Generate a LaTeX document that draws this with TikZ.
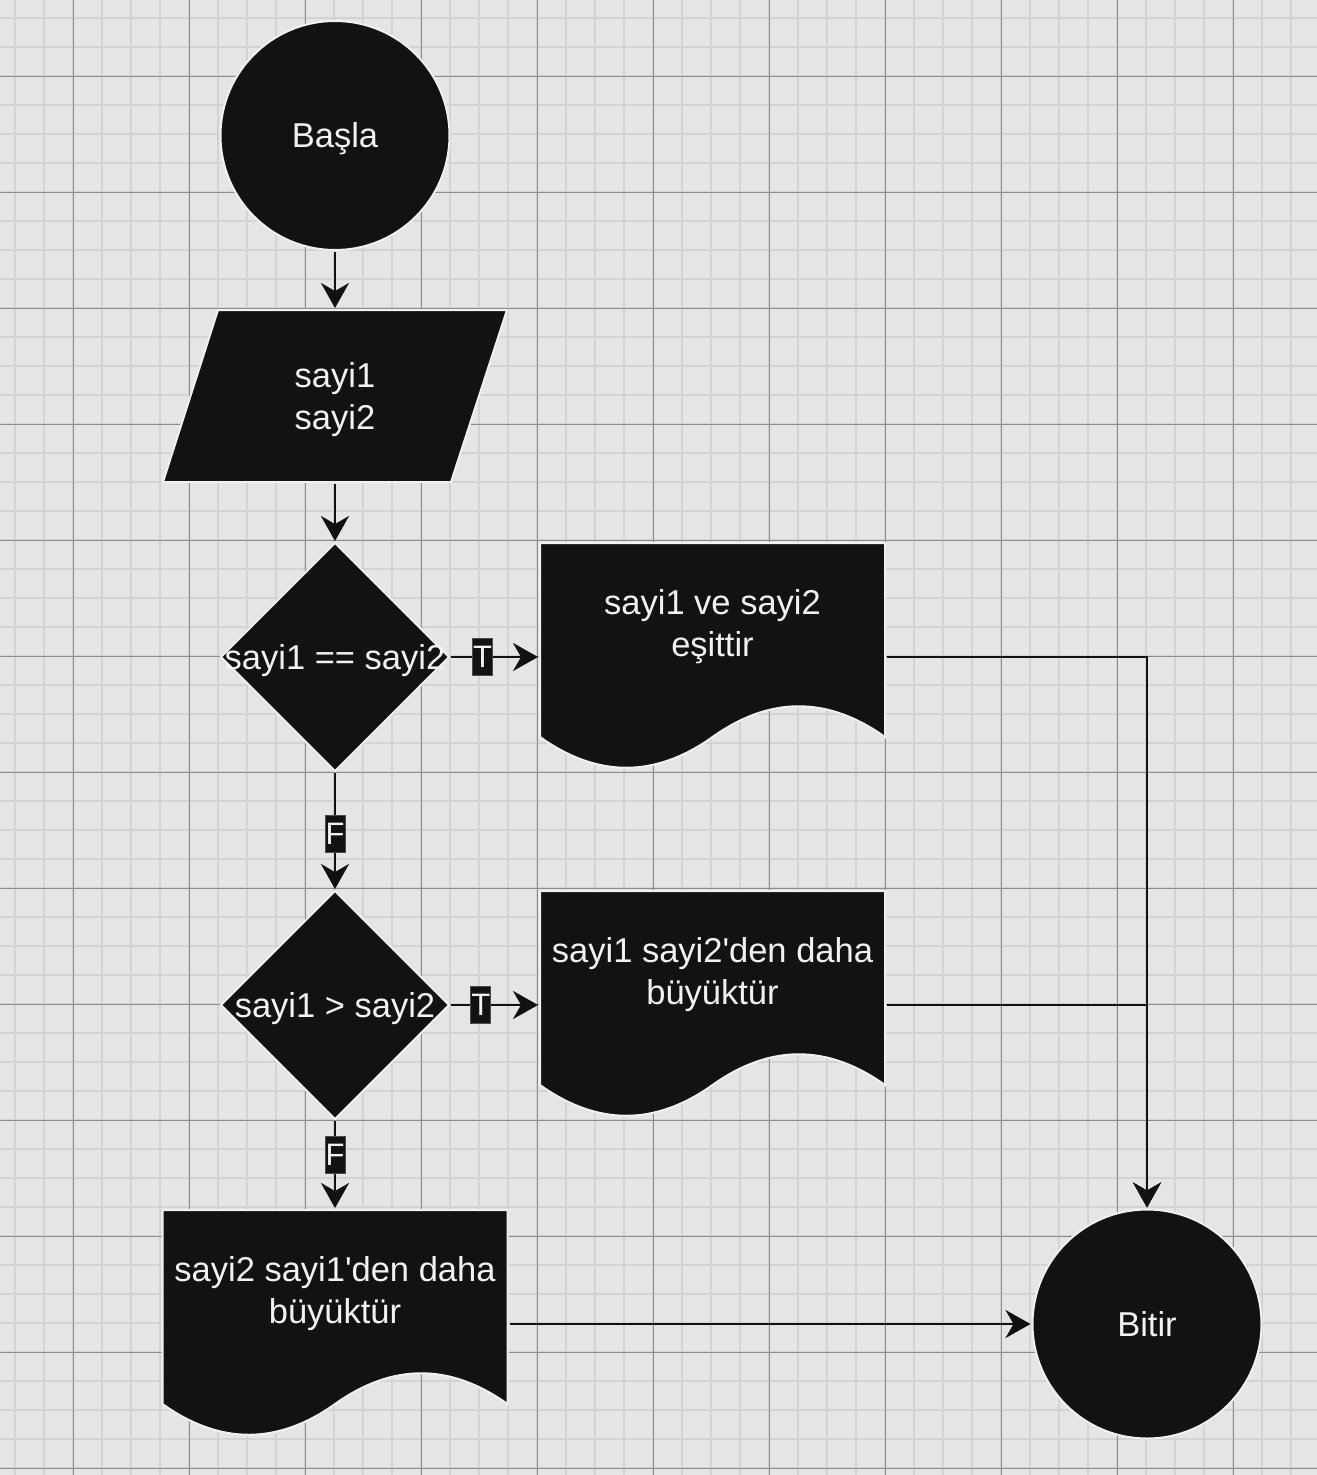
\documentclass[tikz,border=0pt]{standalone}
\usepackage{fontspec}
\setmainfont{Liberation Sans}
\usetikzlibrary{shapes.geometric,arrows.meta}
\definecolor{bgcol}{HTML}{E5E5E5}
\definecolor{minorcol}{HTML}{D3D3D3}
\definecolor{majorcol}{HTML}{8C8C8C}
\definecolor{shpcol}{HTML}{121212}
\definecolor{edgecol}{HTML}{F0F0F0}
\definecolor{txtcol}{HTML}{F2F2F2}
\definecolor{linecol}{HTML}{111111}
\newcommand\mybigfont{\fontsize{34.5}{41.5}\selectfont}
\newcommand\mylblfont{\fontsize{31}{37}\selectfont}
\begin{document}
\begin{tikzpicture}[x=1pt,y=-1pt,
  base/.style={fill=shpcol, draw=edgecol, line width=2pt},
  term/.style={base, circle, minimum size=229pt, inner sep=0pt, outer sep=0pt},
  decision/.style={base, diamond, minimum width=228pt, minimum height=228pt, inner sep=0pt, outer sep=0pt},
  frame/.style={rectangle, inner sep=0pt, outer sep=0pt},
  txtnode/.style={text=txtcol, font=\mybigfont, align=center, inner sep=0pt, yshift=-3.5pt},
  lbl/.style={fill=shpcol, draw=black!70, line width=0.8pt, text=txtcol, font=\mylblfont, minimum width=20pt, minimum height=37pt, inner sep=0pt},
  conn/.style={draw=linecol, line width=2.6pt, shorten >=2pt, shorten <=2pt, -{Stealth[length=25pt,width=28pt,inset=8pt]}}
]
\useasboundingbox (0,0) rectangle (1317,1475);
\fill[bgcol] (0,0) rectangle (1317,1475);
\foreach \x in {15,44,...,1317} \draw[minorcol, line width=1.6pt] (\x,0) -- (\x,1475);
\foreach \y in {18,47,...,1475} \draw[minorcol, line width=1.6pt] (0,\y) -- (1317,\y);
\foreach \x in {73,189,...,1317} \draw[majorcol, line width=1pt] (\x,0) -- (\x,1475);
\foreach \y in {76,192,...,1475} \draw[majorcol, line width=1pt] (0,\y) -- (1317,\y);

% start
\node[term] (start) at (335,135.5) {};
\node[txtnode] at (start.center) {Başla};

% input parallelogram
\node[frame, minimum width=344pt, minimum height=172pt] (inp) at (335,396) {};
\filldraw[base] ([xshift=55pt]inp.north west) -- (inp.north east) -- ([xshift=-56pt]inp.south east) -- (inp.south west) -- cycle;
\node[txtnode] at (inp.center) {sayi1\\sayi2};

% decisions
\node[decision] (d1) at (335,657) {};
\node[txtnode] at (d1.center) {sayi1 == sayi2};
\node[decision] (d2) at (335,1005) {};
\node[txtnode] at (d2.center) {sayi1 > sayi2};

% documents
\node[frame, minimum width=345pt, minimum height=228pt] (doc1) at (712.5,657) {};
\node[frame, minimum width=345pt, minimum height=228pt] (doc2) at (712.5,1005) {};
\node[frame, minimum width=345pt, minimum height=228pt] (doc3) at (335,1324) {};
\foreach \d in {doc1,doc2,doc3} {
  \filldraw[base] (\d.north west) -- (\d.north east) -- ++(0,194)
    .. controls +(-57.5,-41) and +(57.5,-41) .. ++(-172.5,0)
    .. controls +(-57.5,41) and +(57.5,41) .. ++(-172.5,0) -- cycle;
}
\node[txtnode, yshift=34pt] at (doc1.center) {sayi1 ve sayi2\\eşittir};
\node[txtnode, yshift=34pt] at (doc2.center) {sayi1 sayi2\textquotesingle den daha\\büyüktür};
\node[txtnode, yshift=34pt] at (doc3.center) {sayi2 sayi1\textquotesingle den daha\\büyüktür};

% end
\node[term] (bitir) at (1147,1324) {};
\node[txtnode, yshift=3pt] at (bitir.center) {Bitir};

% connectors
\draw[conn] (start) -- (inp);
\draw[conn] (inp) -- (d1);
\draw[conn] (d1.east) -- node[lbl, pos=0.37] {T} (doc1.west);
\draw[conn] (d1.south) -- node[lbl, pos=0.52] {F} (d2.north);
\draw[conn] (d2.east) -- node[lbl, pos=0.35] {T} (doc2.west);
\draw[conn] (d2.south) -- node[lbl, pos=0.39] {F} (doc3.north);
\draw[conn] (doc1.east) -| (bitir.north);
\draw[conn] (doc2.east) -| (bitir.north);
\draw[conn] (doc3.east) -- (bitir.west);
\end{tikzpicture}
\end{document}
